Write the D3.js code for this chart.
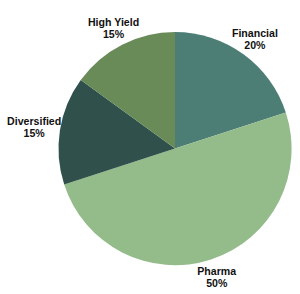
<!DOCTYPE html>
<html>
<head>
<meta charset="utf-8">
<script src="https://cdn.jsdelivr.net/npm/d3@7"></script>
<style>
  html, body { margin: 0; padding: 0; background: #fff; }
  svg { display: block; }
  .lbl { font-family: "Liberation Sans", Arial, sans-serif; font-weight: bold; font-size: 10.6px; fill: #111; }
</style>
</head>
<body>
<div class="pie"></div>
<script>
const categories = ['Financial', 'Pharma', 'Diversified', 'High Yield'];
const shares = [20, 50, 15, 15];
const colors = ['#4d7e76', '#94bb8a', '#30504b', '#688b58'];

const width = 300,
  height = 294,
  cx = 175,
  cy = 148.5,
  radius = 116.5,
  labelRadius = 135;

const data = categories.map((c, i) => ({ name: c, value: shares[i], color: colors[i] }));

let svg = d3.select('.pie').append('svg').attr('width', width).attr('height', height);

let pie = d3.pie().sort(null).value(d => d.value),
  arc = d3.arc().innerRadius(0).outerRadius(radius);

let g = svg.append('g').attr('transform', 'translate(' + cx + ',' + cy + ')');

let arcs = pie(data);

g.selectAll('path')
  .data(arcs)
  .enter()
  .append('path')
  .attr('d', arc)
  .style('fill', d => d.data.color);

let label = g
  .selectAll('.lbl')
  .data(arcs)
  .enter()
  .append('text')
  .attr('class', 'lbl')
  .attr('text-anchor', 'middle')
  .attr('transform', d => {
    let a = (d.startAngle + d.endAngle) / 2,
      ux = Math.sin(a),
      uy = -Math.cos(a);
    // labels near 3/9 o'clock get pushed out a bit more, like the original
    let x = labelRadius * ux + Math.pow(ux, 5) * 8,
      y = labelRadius * uy;
    return 'translate(' + x + ',' + y + ')';
  });

label.append('tspan').attr('x', 0).attr('dy', -2.4).text(d => d.data.name);
label.append('tspan').attr('x', 0).attr('dy', 12.4).text(d => d.data.value + '%');
</script>
</body>
</html>
